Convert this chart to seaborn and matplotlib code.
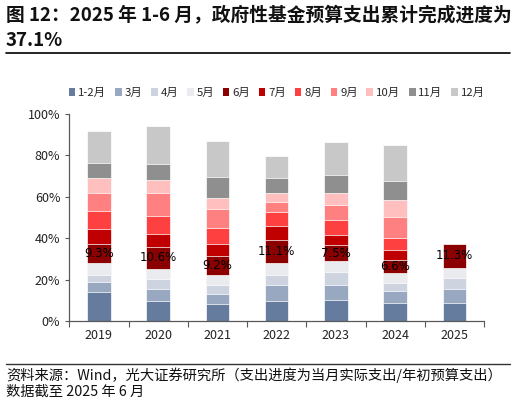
import numpy as np
import matplotlib
matplotlib.use("Agg")
import matplotlib.pyplot as plt
import seaborn as sns
from matplotlib.lines import Line2D
from matplotlib.patches import Patch

# -----------------------------
# DATA (monthly increments of budget spending progress, %)
# -----------------------------
years = ["2019", "2020", "2021", "2022", "2023", "2024", "2025"]
months = ["1-2月", "3月", "4月", "5月", "6月", "7月", "8月", "9月", "10月", "11月", "12月"]

inc_2019 = [14.2, 4.5, 3.7, 5.5, 9.3, 7.4, 8.4, 9.0, 7.1, 7.2, 15.6]
inc_2020 = [9.8, 5.8, 4.8, 4.8, 10.6, 6.2, 8.7, 11.3, 6.1, 7.9, 18.1]
inc_2021 = [8.2, 4.8, 4.5, 4.9, 9.2, 5.7, 7.8, 9.2, 5.3, 9.8, 17.4]
inc_2022 = [9.8, 7.7, 4.9, 5.8, 11.1, 6.7, 6.5, 5.1, 4.2, 7.4, 10.7]
inc_2023 = [10.3, 7.2, 6.0, 5.5, 7.5, 5.2, 6.9, 7.6, 5.6, 8.7, 15.8]
inc_2024 = [8.8, 5.8, 3.9, 4.5, 6.6, 4.8, 5.8, 10.2, 8.1, 9.1, 17.3]
inc_2025 = [8.8, 6.8, 5.3, 4.9, 11.3] + [np.nan] * 6

month_colors = ["#657C9E", "#97A8C0", "#CDD3DF", "#EAEBEF", "#8B0000", "#C00000",
                "#FF4040", "#FF8080", "#FFBFBF", "#8F8F8F", "#C8C8C8"]

inc = np.array([inc_2019, inc_2020, inc_2021, inc_2022, inc_2023, inc_2024, inc_2025]) / 100
cum = np.cumsum(inc, axis=1)
june = inc[:, 4]

# -----------------------------
# PLOT
# -----------------------------
sns.set_theme(style="ticks")
plt.rcParams["font.family"] = ["Noto Sans CJK SC", "DejaVu Sans"]
plt.rcParams["axes.unicode_minus"] = False

fig = plt.figure(figsize=(5.16, 4.04), dpi=100)
ax = fig.add_axes([69.3 / 516, 1 - 321 / 404, (484 - 69.3) / 516, (321 - 114) / 404])

# stacked bars: draw cumulative totals from the last month back to the first
for m in range(len(months) - 1, -1, -1):
    sns.barplot(x=years, y=cum[:, m], order=years, color=month_colors[m],
                saturation=1, width=0.4, errorbar=None, ax=ax,
                edgecolor="white", linewidth=0.5)

# june increment labels, centred on the 6月 segment
for i, y in enumerate(years):
    ax.text(i, cum[i, 3] + june[i] / 2, f"{june[i] * 100:.1f}%",
            ha="center", va="center", fontsize=8.5, color="black",
            family="DejaVu Sans")

ax.set_xlim(-0.5, 6.5)
ax.set_ylim(0, 1)
ax.set_yticks(np.arange(0, 1.01, 0.2))
ax.set_yticklabels([f"{int(v * 100)}%" for v in np.arange(0, 1.01, 0.2)])
ax.set_xlabel("")
ax.set_ylabel("")
ax.set_xticks(range(len(years)))
ax.set_xticklabels(years)
ax.set_xticks(np.arange(-0.5, 7, 1), minor=True)
ax.tick_params(axis="x", which="major", length=0, pad=6, labelsize=9, colors="#222222")
ax.tick_params(axis="x", which="minor", length=4, width=0.8, color="#595959")
ax.tick_params(axis="y", length=3, width=0.8, color="#595959", labelsize=9, labelcolor="#222222")
sns.despine(ax=ax)
for s in ["left", "bottom"]:
    ax.spines[s].set_color("#595959")
    ax.spines[s].set_linewidth(0.9)

handles = [Patch(facecolor=c, edgecolor="none") for c in month_colors]
ax.legend(handles, months, loc="center", bbox_to_anchor=(0.5, 1.101), ncol=11,
          frameon=False, fontsize=8.2, handlelength=0.6, handleheight=0.6,
          handletextpad=0.25, columnspacing=0.75, borderaxespad=0)

# title, rules and source
fig.text(6 / 516, 1 - 15 / 404, "图 12：2025 年 1-6 月，政府性基金预算支出累计完成进度为",
         fontsize=13.5, fontweight="bold", va="center", ha="left", color="#111111")
fig.text(6 / 516, 1 - 40 / 404, "37.1%", fontsize=13.5, fontweight="bold",
         va="center", ha="left", color="#111111")
fig.add_artist(Line2D([6 / 516, 510 / 516], [1 - 53 / 404] * 2, color="black", lw=1.2))
fig.add_artist(Line2D([6 / 516, 510 / 516], [1 - 364 / 404] * 2, color="#333333", lw=1))
fig.text(6 / 516, 1 - 375 / 404,
         "资料来源：Wind，光大证券研究所（支出进度为当月实际支出/年初预算支出）",
         fontsize=10.3, va="center", ha="left", color="#111111")
fig.text(6 / 516, 1 - 392 / 404, "数据截至 2025 年 6 月",
         fontsize=10.3, va="center", ha="left", color="#111111")

fig.savefig("out.png", dpi=100)
